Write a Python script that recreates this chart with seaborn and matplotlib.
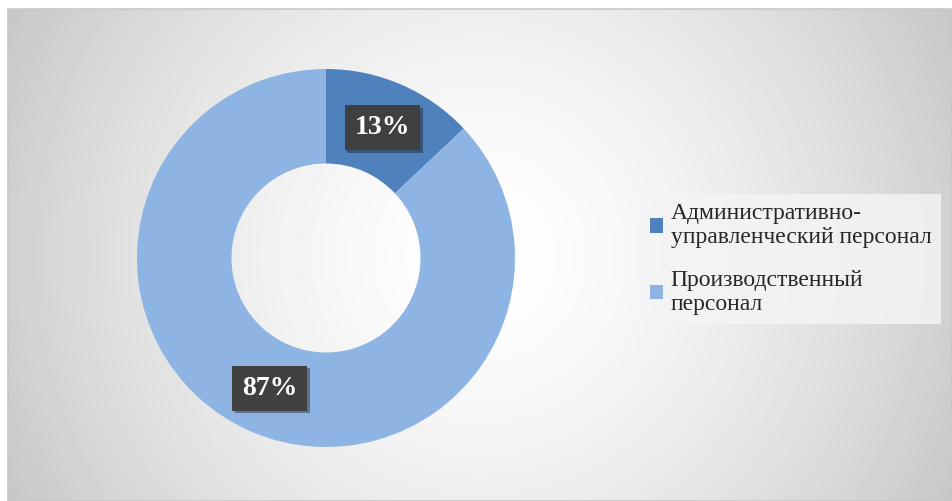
import numpy as np
import matplotlib
matplotlib.use("Agg")
import matplotlib.pyplot as plt
import matplotlib.patheffects as pe
from matplotlib.patches import Rectangle, Patch
import seaborn as sns

# data
categories = ["Административно-\nуправленческий персонал", "Производственный\nперсонал"]
shares = [13, 87]
colors = ["#4F81BD", "#8DB4E2"]

sns.set_style("white")
plt.rcParams['font.family'] = ['Liberation Serif', 'DejaVu Serif']

W, H = 952, 501
fig = plt.figure(figsize=(W / 100, H / 100), dpi=100)
fig.patch.set_facecolor("white")

# background: radial grey gradient inside a thin frame
bg = fig.add_axes([0, 0, 1, 1])
bg.set_xlim(0, W)
bg.set_ylim(H, 0)
bg.axis("off")
x0, y0 = 8, 9
xx, yy = np.meshgrid(np.arange(x0, W), np.arange(y0, H))
d = np.sqrt((xx - 480) ** 2 + (yy - 255) ** 2) / 532.0
val = 1 - 0.22 * np.clip(d, 0, 1.1) ** 1.5
bg.imshow(val, cmap="gray", vmin=0, vmax=1, extent=(x0, W, H, y0), aspect="auto", interpolation="bilinear")
bg.add_patch(Rectangle((x0, y0), W - x0, H - y0, fill=False, edgecolor="#c8c8c8", lw=1.2))

# donut
cx, cy, r = 326, 258, 189
ax = fig.add_axes([(cx - r) / W, (H - cy - r) / H, 2 * r / W, 2 * r / H])
wedges, texts = ax.pie(shares, colors=colors, startangle=90, counterclock=False,
                       radius=1, wedgeprops=dict(width=0.5, edgecolor="none"))
ax.set_xlim(-1, 1)
ax.set_ylim(-1, 1)
ax.axis("off")

for w, v in zip(wedges, shares):
    ang = np.deg2rad((w.theta1 + w.theta2) / 2)
    t = ax.text(0.75 * np.cos(ang), 0.75 * np.sin(ang), f"{v}%", ha="center", va="center",
                fontsize=20, fontweight="bold", color="white",
                bbox=dict(boxstyle="square,pad=0.36", facecolor="#404040", edgecolor="none"))
    t.get_bbox_patch().set_path_effects([pe.SimplePatchShadow(offset=(2, -2), alpha=0.4), pe.Normal()])

# legend
handles = [Patch(facecolor=c, edgecolor="none") for c in colors]
leg = fig.legend(handles, categories, loc="center left", bbox_to_anchor=(641 / W, 1 - 259 / H),
                 fontsize=17, frameon=True, fancybox=False, handlelength=0.55, handleheight=0.55,
                 handletextpad=0.3, labelspacing=0.9, borderpad=0.4, borderaxespad=0)
leg.get_frame().set_facecolor("#f4f4f4")
leg.get_frame().set_edgecolor("none")
leg.get_frame().set_alpha(0.85)

fig.savefig("out.png", dpi=100)
